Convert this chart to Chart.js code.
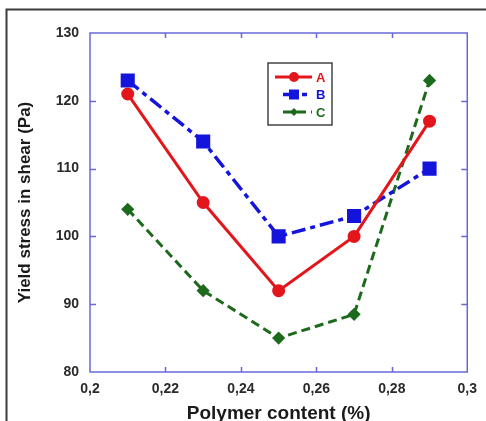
<!DOCTYPE html>
<html>
<head>
<meta charset="utf-8">
<script src="https://cdn.jsdelivr.net/npm/chart.js"></script>
<style>
  html, body { margin:0; padding:0; background:#fff; }
  #wrap { position:relative; width:486px; height:421px; }
</style>
</head>
<body>
<div id="wrap"><canvas id="chart" width="486" height="421"></canvas></div>
<script>
// data
const polymerContent = [0.21, 0.23, 0.25, 0.27, 0.29];
const seriesA = [121, 105, 92, 100, 117];
const seriesB = [123, 114, 100, 103, 110];
const seriesC = [104, 92, 85, 88.5, 123];
const seriesNames = ['A', 'B', 'C'];
const xTickValues = [0.2, 0.22, 0.24, 0.26, 0.28, 0.3];
const yTickValues = [80, 90, 100, 110, 120, 130];

const FONT = "'Liberation Sans', Arial, sans-serif";
const frameColor = '#6868d8';

function pts(ys) {
    return polymerContent.map((x, i) => ({x: x, y: ys[i]}));
}

// frame, inside tick marks and the boxed legend
const decorPlugin = {
    id: 'decor',
    beforeDraw(chart) {
        const ctx = chart.ctx;
        ctx.save();
        ctx.strokeStyle = '#3a3a3a';
        ctx.lineWidth = 2;
        ctx.beginPath();
        ctx.moveTo(6.5, 421);
        ctx.lineTo(6.5, 9.5);
        ctx.lineTo(486, 9.5);
        ctx.stroke();
        ctx.restore();
    },
    afterDatasetsDraw(chart) {
        const ctx = chart.ctx;
        const a = chart.chartArea;
        const xs = chart.scales.x, ys = chart.scales.y;
        ctx.save();
        ctx.strokeStyle = frameColor;
        ctx.lineWidth = 1.5;
        ctx.strokeRect(a.left, a.top, a.right - a.left, a.bottom - a.top);
        ctx.beginPath();
        xs.ticks.forEach(t => {
            if (t.value <= xs.min || t.value >= xs.max) return;
            const px = Math.round(xs.getPixelForValue(t.value)) + 0.5;
            ctx.moveTo(px, a.bottom); ctx.lineTo(px, a.bottom - 5);
            ctx.moveTo(px, a.top); ctx.lineTo(px, a.top + 5);
        });
        ys.ticks.forEach(t => {
            if (t.value <= ys.min || t.value >= ys.max) return;
            const py = Math.round(ys.getPixelForValue(t.value)) + 0.5;
            ctx.moveTo(a.left, py); ctx.lineTo(a.left + 6, py);
            ctx.moveTo(a.right, py); ctx.lineTo(a.right - 6, py);
        });
        ctx.stroke();

        // legend box
        ctx.strokeStyle = '#444';
        ctx.lineWidth = 1.5;
        ctx.strokeRect(268, 63, 64, 62);
        chart.data.datasets.forEach((ds, i) => {
            const y = 77 + i * 17.5;
            ctx.strokeStyle = ds.borderColor;
            ctx.lineWidth = ds.borderWidth;
            ctx.setLineDash(ds.borderDash || []);
            ctx.beginPath();
            ctx.moveTo(i === 0 ? 275 : 283, y);
            ctx.lineTo(312, y);
            ctx.stroke();
            ctx.setLineDash([]);
            ctx.fillStyle = ds.pointBackgroundColor;
            const r = ds.legendRadius;
            ctx.beginPath();
            if (ds.pointStyle === 'circle') {
                ctx.arc(294, y, r, 0, Math.PI * 2);
            } else if (ds.pointStyle === 'rect') {
                ctx.rect(294 - r, y - r, 2 * r, 2 * r);
            } else {
                ctx.moveTo(294, y - r); ctx.lineTo(294 + r, y);
                ctx.lineTo(294, y + r); ctx.lineTo(294 - r, y);
                ctx.closePath();
            }
            ctx.fill();
            ctx.font = 'bold 13px ' + FONT;
            ctx.textBaseline = 'middle';
            ctx.fillText(ds.label, 316, y + 1);
        });
        ctx.restore();
    }
};

let myChart = document.getElementById('chart').getContext('2d');

let yieldChart = new Chart(myChart, {
    type: 'line',
    data: {
        datasets: [{
            label: seriesNames[0],
            data: pts(seriesA),
            borderColor: '#e3161c',
            backgroundColor: '#e3161c',
            pointBackgroundColor: '#e3161c',
            pointBorderColor: '#e3161c',
            borderWidth: 3,
            pointStyle: 'circle',
            pointRadius: 5,
            legendRadius: 5,
            tension: 0
        }, {
            label: seriesNames[1],
            data: pts(seriesB),
            borderColor: '#1414dc',
            backgroundColor: '#1414dc',
            pointBackgroundColor: '#1414dc',
            pointBorderColor: '#1414dc',
            borderWidth: 3.5,
            borderDash: [14, 5, 5, 5],
            pointStyle: 'rect',
            pointRadius: 7.5,
            legendRadius: 5,
            tension: 0
        }, {
            label: seriesNames[2],
            data: pts(seriesC),
            borderColor: '#1d6a1d',
            backgroundColor: '#1d6a1d',
            pointBackgroundColor: '#1d6a1d',
            pointBorderColor: '#1d6a1d',
            borderWidth: 3,
            borderDash: [9, 5],
            pointStyle: 'rectRot',
            pointRadius: 4.5,
            legendRadius: 4,
            tension: 0
        }]
    },
    options: {
        responsive: false,
        animation: false,
        devicePixelRatio: 1,
        layout: { padding: { top: 33, right: 17, left: 0, bottom: 0 } },
        plugins: { legend: { display: false }, tooltip: { enabled: false } },
        scales: {
            x: {
                type: 'linear',
                min: 0.2, max: 0.3,
                afterBuildTicks: s => { s.ticks = xTickValues.map(v => ({value: v})); },
                afterFit: s => { s.height = 49; },
                grid: { display: false, drawTicks: false },
                border: { display: false },
                ticks: {
                    padding: 9,
                    color: '#2a2a2a',
                    font: { family: FONT, size: 14, weight: 'bold' },
                    callback: v => String(Number(v.toFixed(2))).replace('.', ',')
                },
                title: {
                    display: true,
                    text: 'Polymer content (%)',
                    color: '#1a1a1a',
                    font: { family: FONT, size: 19, weight: 'bold' },
                    padding: { top: 0, bottom: -4 }
                }
            },
            y: {
                min: 80, max: 130,
                afterBuildTicks: s => { s.ticks = yTickValues.map(v => ({value: v})); },
                afterFit: s => { s.width = 90; },
                grid: { display: false, drawTicks: false },
                border: { display: false },
                ticks: {
                    padding: 11,
                    color: '#2a2a2a',
                    font: { family: FONT, size: 14, weight: 'bold' }
                },
                title: {
                    display: true,
                    text: 'Yield stress in shear (Pa)',
                    color: '#1a1a1a',
                    font: { family: FONT, size: 17, weight: 'bold' },
                    padding: { top: 15, bottom: 0 }
                }
            }
        }
    },
    plugins: [decorPlugin]
});
</script>
</body>
</html>
